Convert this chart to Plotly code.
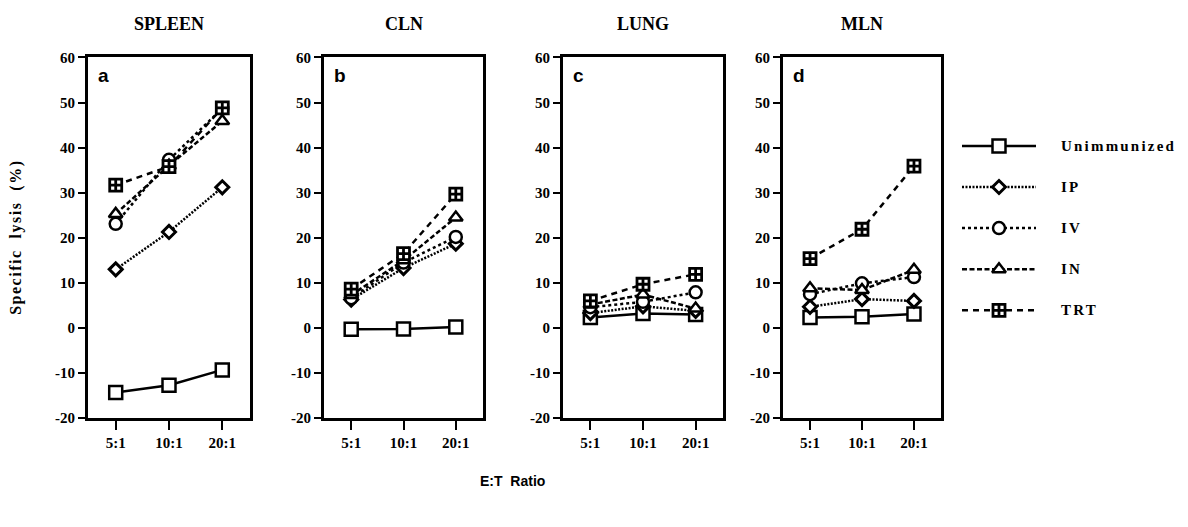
import plotly.graph_objects as go

# ---------------- data ----------------
ratios = ["5:1", "10:1", "20:1"]
tissues = ["SPLEEN", "CLN", "LUNG", "MLN"]
panel_letters = ["a", "b", "c", "d"]
groups = ["Unimmunized", "IP", "IV", "IN", "TRT"]
y_ticks = [-20, -10, 0, 10, 20, 30, 40, 50, 60]
y_tick_labels = ["-20", "-10", "0", "10", "20", "30", "40", "50", "60"]

# specific lysis (%) per tissue (SPLEEN, CLN, LUNG, MLN), values at 5:1, 10:1, 20:1
unimmunized = [[-14.3, -12.7, -9.3], [-0.3, -0.2, 0.2], [2.3, 3.2, 3.0], [2.3, 2.5, 3.1]]
ip_values = [[13.0, 21.3, 31.2], [6.3, 13.3, 18.7], [3.3, 4.8, 3.8], [4.7, 6.4, 6.0]]
iv_values = [[23.1, 37.3, 48.7], [6.6, 14.5, 20.2], [4.6, 5.8, 7.9], [7.5, 9.9, 11.3]]
in_values = [[25.3, 36.0, 45.9], [7.3, 15.0, 24.5], [5.2, 7.4, 4.3], [8.8, 8.4, 12.9]]
trt_values = [[31.7, 35.8, 48.8], [8.6, 16.5, 29.7], [6.0, 9.7, 11.9], [15.4, 21.9, 35.9]]

series_values = [unimmunized, ip_values, iv_values, in_values, trt_values]

# ---------------- styles ----------------
dashes = ["solid", "2px,1.5px", "3px,3px", "5px,2.5px", "6px,5px"]
line_widths = [2.5, 2.5, 2.5, 2.5, 2.5]
symbols = ["square", "diamond", "circle", "triangle-up", "square-cross"]
marker_sizes = [13, 10, 12, 12, 12]
marker_line_widths = [2.5, 3, 2.5, 2.5, 2.8]

W, H = 1188, 527
panel_px = [(88, 250), (324, 483), (563, 723), (783, 941)]
top_px, bottom_px = 51, 423
y_dom = [(H - bottom_px) / H, (H - top_px) / H]

serif = "Liberation Serif"
sans = "Liberation Sans"

fig = go.Figure()

for p, tissue in enumerate(tissues):
    ax = "" if p == 0 else str(p + 1)
    for g, name in enumerate(groups):
        fig.add_trace(go.Scatter(
            x=ratios, y=series_values[g][p],
            mode="lines+markers",
            line=dict(color="black", width=line_widths[g], dash=dashes[g]),
            marker=dict(symbol=symbols[g], size=marker_sizes[g], color="white",
                        line=dict(color="black", width=marker_line_widths[g])),
            xaxis="x" + ax, yaxis="y" + ax, showlegend=False, name=name,
        ))
    x0, x1 = panel_px[p]
    fig.update_layout(**{
        "xaxis" + ax: dict(
            domain=[x0 / W, x1 / W], type="category", categoryorder="array",
            categoryarray=ratios, range=[-0.52, 2.52],
            showline=True, mirror=True, linewidth=3, linecolor="black",
            ticks="outside", ticklen=9, tickwidth=2, tickcolor="black",
            showgrid=False, zeroline=False, anchor="y" + ax,
            tickfont=dict(family=serif, size=15, color="black", weight="bold"),
        ),
        "yaxis" + ax: dict(
            domain=y_dom, range=[-20, 60], tickvals=y_ticks, ticktext=y_tick_labels,
            showline=True, mirror=True, linewidth=3, linecolor="black",
            ticks="outside", ticklen=7, tickwidth=2, tickcolor="black",
            showgrid=False, zeroline=False, anchor="x" + ax,
            tickfont=dict(family=serif, size=15, color="black", weight="bold"),
        ),
    })
    fig.add_annotation(text=tissue, xref=("x" + ax + " domain"), x=0.5,
                       yref="paper", y=(H - 17) / H, yanchor="middle", showarrow=False,
                       font=dict(family=serif, size=18, color="black", weight="bold"))
    fig.add_annotation(text=panel_letters[p], xref=("x" + ax + " domain"), x=0.05,
                       yref=("y" + ax + " domain"), y=0.985, xanchor="left", yanchor="top",
                       showarrow=False,
                       font=dict(family=sans, size=19, color="black", weight="bold"))

# ---------------- legend (drawn on its own hidden axes) ----------------
legend_rows = [4, 3, 2, 1, 0]
legend_x = [0, 0.5, 1]
for g, name in enumerate(groups):
    r = legend_rows[g]
    fig.add_trace(go.Scatter(
        x=legend_x, y=[r] * 3, mode="lines",
        line=dict(color="black", width=line_widths[g], dash=dashes[g]),
        xaxis="x5", yaxis="y5", showlegend=False, hoverinfo="skip"))
    fig.add_trace(go.Scatter(
        x=[legend_x[1]], y=[r], mode="markers",
        marker=dict(symbol=symbols[g], size=marker_sizes[g], color="white",
                    line=dict(color="black", width=marker_line_widths[g])),
        xaxis="x5", yaxis="y5", showlegend=False, hoverinfo="skip"))
    fig.add_annotation(text='<span style="letter-spacing:2.2px">' + name + "</span>",
                       xref="x5", x=1, xshift=23, yref="y5", y=r,
                       xanchor="left", yanchor="middle", showarrow=False,
                       font=dict(family=serif, size=15, color="black", weight="bold"))

leg_top, leg_bottom = 121, 333
fig.update_layout(
    xaxis5=dict(domain=[962 / W, 1036 / W], range=[0, 1], visible=False, anchor="y5"),
    yaxis5=dict(domain=[(H - leg_bottom) / H, (H - leg_top) / H], range=[-0.5, 4.5],
                visible=False, anchor="x5"),
)

# ---------------- axis titles ----------------
fig.add_annotation(text='<span style="letter-spacing:1.5px">Specific  lysis  (%)</span>',
                   xref="paper", x=16 / W, yref="paper",
                   y=(H - 237) / H, textangle=-90, showarrow=False,
                   xanchor="center", yanchor="middle",
                   font=dict(family=serif, size=16, color="black", weight="bold"))
fig.add_annotation(text="E:T  Ratio", xref="paper", x=512 / W, yref="paper",
                   y=(H - 488) / H, showarrow=False, xanchor="center", yanchor="middle",
                   font=dict(family=sans, size=14, color="black", weight="bold"))

fig.update_layout(
    width=W, height=H, margin=dict(l=0, r=0, t=0, b=0),
    paper_bgcolor="white", plot_bgcolor="white", showlegend=False,
)

fig.write_html("out.html")
